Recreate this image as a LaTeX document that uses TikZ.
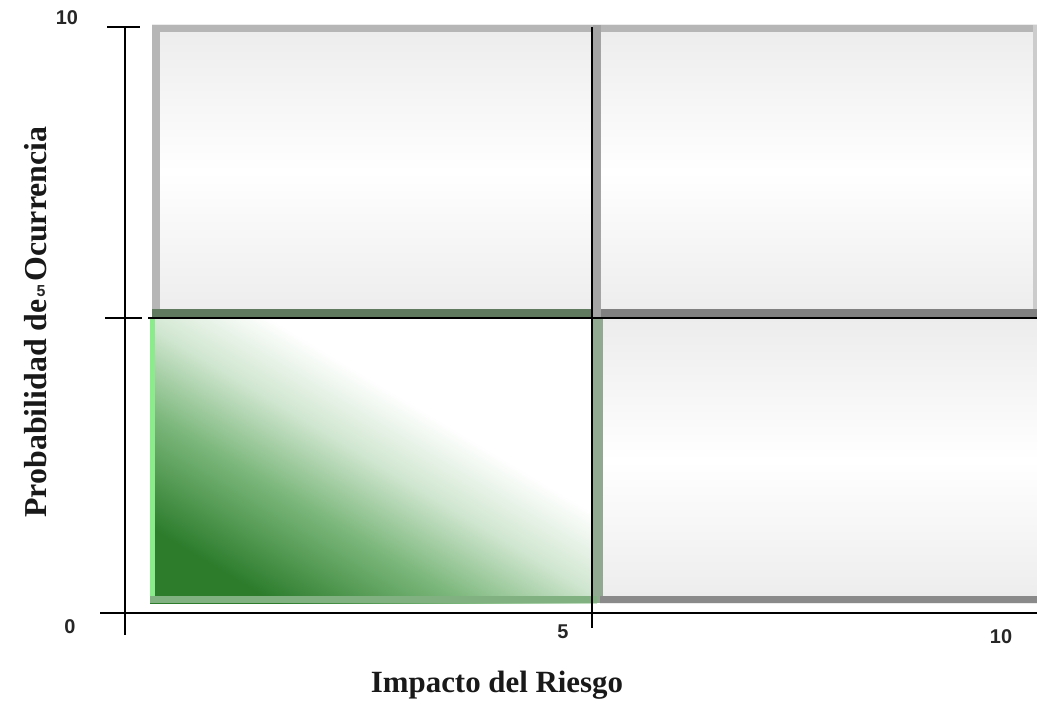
\documentclass[tikz,border=0pt]{standalone}
\usepackage{fontspec}
\setmainfont{Liberation Serif}
\newfontfamily\numfont{Liberation Sans}
\definecolor{gdark}{RGB}{44,124,44}
\definecolor{gmid}{RGB}{122,182,122}
\definecolor{glight}{RGB}{208,230,208}
\definecolor{boxgray}{RGB}{236,236,236}
\definecolor{bordlight}{RGB}{182,182,182}
\definecolor{borddark}{RGB}{138,138,138}
\definecolor{bandgreen}{RGB}{95,122,95}
\definecolor{bandgray}{RGB}{128,128,128}
\definecolor{vbandgreen}{RGB}{145,168,145}
\pgfdeclarehorizontalshading{greenfade}{100bp}{color(0bp)=(gdark); color(25bp)=(gdark); color(39bp)=(gmid); color(50bp)=(glight); color(60bp)=(white); color(100bp)=(white)}
\begin{document}
\begin{tikzpicture}[x=1bp,y=-1bp,
  graybox/.style={top color=boxgray, bottom color=boxgray, middle color=white, draw=none},
  axisline/.style={draw=black, line width=2bp},
  num/.style={font=\numfont\bfseries\fontsize{20}{22}\selectfont, text=black!85, inner sep=0pt},
  axlabel/.style={font=\bfseries\fontsize{31}{36}\selectfont, text=black!90, inner sep=0pt}]
\useasboundingbox (0,0) rectangle (1037,707);
% quadrant boxes
\shade[graybox] (152,25) rectangle (593,318);
\shade[graybox] (593,25) rectangle (1037,318);
\shade[graybox] (600,318) rectangle (1037,603);
\shade[shading=greenfade, shading angle=59] (150,318) rectangle (597,603);
% borders of boxes
\fill[bordlight] (152,25) rectangle (160,318);
\fill[bordlight] (152,25) rectangle (1037,32);
\fill[bordlight!70] (1033,25) rectangle (1037,318);
\fill[bandgreen] (152,309) rectangle (593,318);
\fill[bandgray] (593,309) rectangle (1037,318);
\fill[bordlight!90!black] (593,25) rectangle (601,318);
\fill[vbandgreen] (593,318) rectangle (603,603);
\fill[borddark] (600,596) rectangle (1037,603);
\fill[green!45!white!85!gray] (150,318) rectangle (155,603);
\fill[gdark!60!white] (150,596) rectangle (597,603);
% named corner points
\coordinate (ytop) at (125,27);
\coordinate (ybot) at (125,635);
\coordinate (xl) at (100,613);
\coordinate (xr) at (1037,613);
\coordinate (tt1) at (107,27);
\coordinate (tt2) at (140,27);
\coordinate (mt1) at (105,318);
\coordinate (mt2) at (142,318);
\coordinate (hl1) at (148,318);
\coordinate (hl2) at (1037,318);
\coordinate (vl1) at (592,27);
\coordinate (vl2) at (592,628);
% axes and divider lines
\draw[axisline] (ytop) -- (ybot);
\draw[axisline] (xl) -- (xr);
\draw[axisline] (tt1) -- (tt2);
\draw[axisline] (mt1) -- (mt2);
\draw[axisline] (hl1) -- (hl2);
\draw[axisline] (vl1) -- (vl2);
% axis titles
\node[axlabel, anchor=base] (xtitle) at (497,692) {Impacto del Riesgo};
\node[axlabel, anchor=base, rotate=90, font=\bfseries\fontsize{32}{36}\selectfont] (ytitle) at (46,322) {Probabilidad de\hspace{0.55em}Ocurrencia};
% tick labels
\node[num] (n10y) at (67,18) {10};
\node[num, font=\numfont\bfseries\fontsize{16}{18}\selectfont] (n5y) at (41,291) {5};
\node[num] (n0) at (70,627) {0};
\node[num] (n5x) at (563,632) {5};
\node[num] (n10x) at (1001,637) {10};
\end{tikzpicture}
\end{document}
